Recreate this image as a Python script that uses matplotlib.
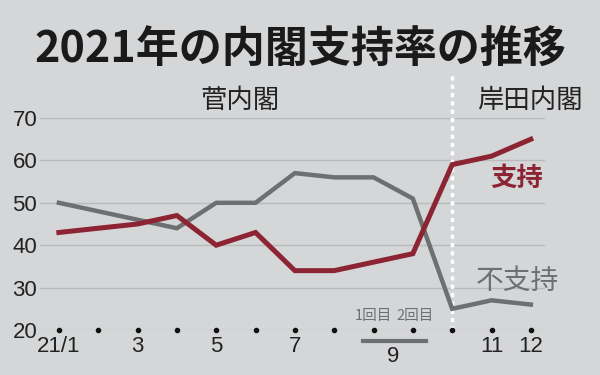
import numpy as np
import matplotlib.pyplot as plt
from matplotlib import font_manager
import matplotlib.transforms as mtransforms

plt.rcParams['font.family'] = ['Noto Sans CJK JP', 'DejaVu Sans']

# survey rounds (Sep had two surveys)
months = ['21/1', '2', '3', '4', '5', '6', '7', '8', '9-1', '9-2', '10', '11', '12']
support = [43, 44, 45, 47, 40, 43, 34, 34, 36, 38, 59, 61, 65]
nonsupport = [50, 48, 46, 44, 50, 50, 57, 56, 56, 51, 25, 27, 26]
tick_pos = [0, 2, 4, 6, 11, 12]
tick_labels = ['21/1', '3', '5', '7', '11', '12']
yticks = [20, 30, 40, 50, 60, 70]

bg = '#d5d6d8'
red = '#8c2434'
grey = '#6e6f71'

narrow = 'Liberation Sans Narrow'
names = {f.name for f in font_manager.fontManager.ttflist}
num_font = [narrow, 'DejaVu Sans'] if narrow in names else ['Liberation Sans', 'DejaVu Sans']

fig = plt.figure(figsize=(6, 3.75), dpi=100, facecolor=bg)
ax = fig.add_axes([40 / 600, 1 - 330 / 375, 505 / 600, 212 / 375])
ax.set_facecolor(bg)

x = np.arange(len(months))
ax.set_xlim(-0.48, 12.36)
ax.set_ylim(20, 70)

for y in yticks:
    ax.axhline(y, color='#b9babc', lw=1, zorder=1)

ax.plot(x, nonsupport, color=grey, lw=3.2, solid_joinstyle='miter', zorder=3, clip_on=False)
ax.plot(x, support, color=red, lw=3.6, solid_joinstyle='miter', zorder=4, clip_on=False)

# dividing line: Suga / Kishida
ax.plot([10, 10], [20, 80.2], color='white', lw=2.5, ls=(0, (1.2, 1.2)), zorder=2, clip_on=False)

ax.scatter(x, [20] * len(x), s=9, color='#111111', zorder=5, clip_on=False)

for s in ax.spines.values():
    s.set_visible(False)
ax.tick_params(length=0)
ax.set_yticks(yticks)
ax.set_yticklabels([str(v) for v in yticks], family=num_font, fontsize=16, color='#222222')
ax.tick_params(axis='y', pad=2)
ax.set_xticks(tick_pos)
ax.set_xticklabels(tick_labels, family=num_font, fontsize=16, color='#222222')
ax.tick_params(axis='x', pad=4)

trans = mtransforms.blended_transform_factory(ax.transData, ax.transAxes)
ax.plot([7.73, 9.33], [-0.052, -0.052], color=grey, lw=3, transform=trans, clip_on=False)
ax.text(8.5, -0.075, '9', transform=trans, ha='center', va='top', family=num_font,
        fontsize=16, color='#222222')
ax.text(8, 23.4, '1回目', ha='center', va='center', fontsize=10.5, color=grey)
ax.text(9.05, 23.4, '2回目', ha='center', va='center', fontsize=10.5, color=grey)

ax.text(11.65, 55.8, '支持', ha='center', va='center', fontsize=19, fontweight='bold', color=red)
ax.text(11.65, 31.5, '不支持', ha='center', va='center', fontsize=20, color=grey)

fig.text(240 / 600, 1 - 100 / 375, '菅内閣', ha='center', va='center', fontsize=19, color='#222222')
fig.text(530 / 600, 1 - 100 / 375, '岸田内閣', ha='center', va='center', fontsize=19, color='#222222')
fig.text(0.5, 1 - 49 / 375, '2021年の内閣支持率の推移', ha='center', va='center',
         fontsize=31, fontweight='bold', color='#1a1a1a')

fig.savefig('out.png', dpi=100, facecolor=bg)
